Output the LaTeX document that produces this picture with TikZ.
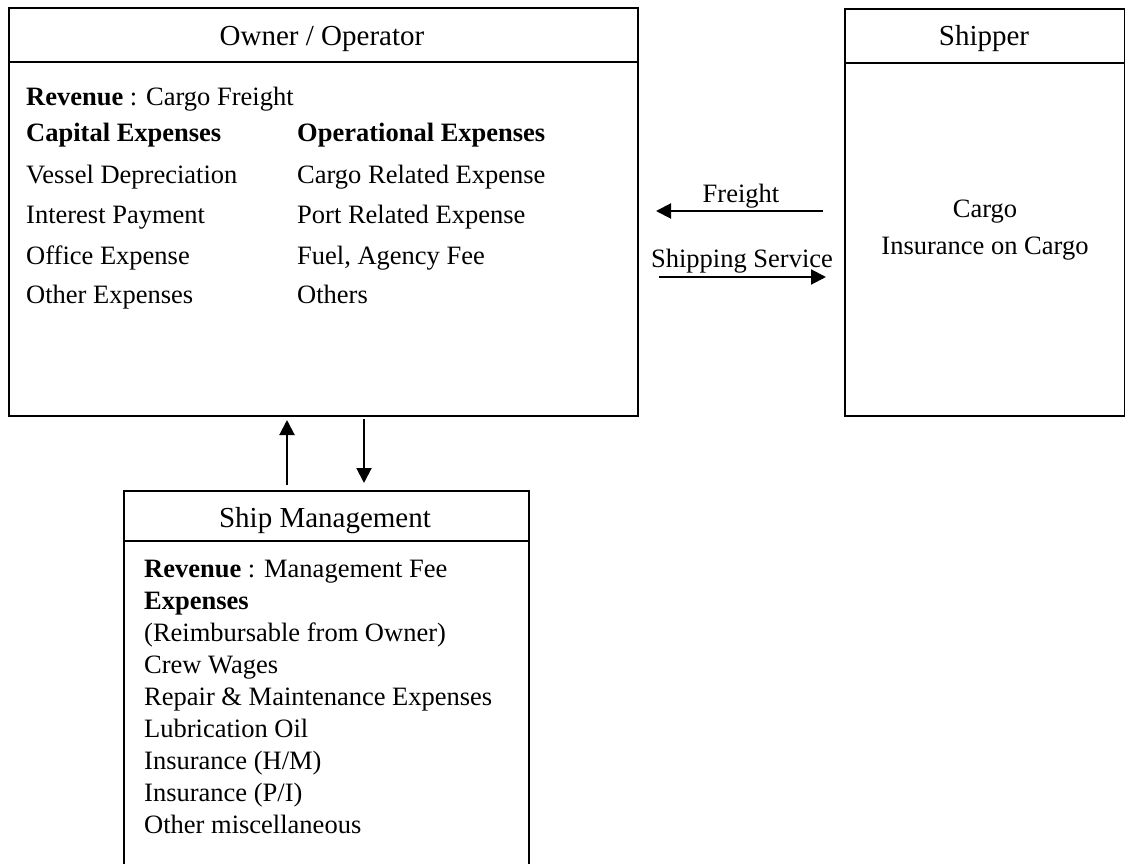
\documentclass[tikz,border=0pt]{standalone}
\usepackage{fontspec}
\setmainfont{Liberation Serif}
\usetikzlibrary{arrows.meta}
\begin{document}
\begin{tikzpicture}[x=1pt,y=-1pt,
  frame/.style={draw, line width=2pt, inner sep=0pt, anchor=north west},
  rule/.style={line width=2.5pt},
  flow/.style={line width=2pt, -{Triangle[length=15pt,width=15pt]}},
  head/.style={font=\fontsize{29}{34}\selectfont, anchor=base, inner sep=0pt},
  txt/.style={font=\fontsize{26.5}{32}\selectfont, anchor=base west, inner sep=0pt},
  ctr/.style={font=\fontsize{26.5}{32}\selectfont, anchor=base, inner sep=0pt}]
\useasboundingbox (0,0) rectangle (1125,864);

% --- Owner / Operator -------------------------------------------------
\node[frame, minimum width=629pt, minimum height=408pt] (owner) at (8,7) {};
\draw[rule] ([yshift=-55pt]owner.north west) -- ([yshift=-55pt]owner.north east);
\node[head] (ownerT) at (322,46) {Owner / Operator};
\node[txt] (oRev) at (26,106) {\textbf{Revenue} : Cargo Freight};
\node[txt] (oCap) at (26,142) {\textbf{Capital Expenses}};
\node[txt] (oOp)  at (297,142) {\textbf{Operational Expenses}};
\node[txt] (oC1) at (26,184) {Vessel Depreciation};
\node[txt] (oC2) at (26,223) {Interest Payment};
\node[txt] (oC3) at (26,264) {Office Expense};
\node[txt] (oC4) at (26,303) {Other Expenses};
\node[txt] (oO1) at (297,184) {Cargo Related Expense};
\node[txt] (oO2) at (297,223) {Port Related Expense};
\node[txt] (oO3) at (297,264) {Fuel, Agency Fee};
\node[txt] (oO4) at (297,303) {Others};

% --- Shipper ----------------------------------------------------------
\node[frame, minimum width=280pt, minimum height=407pt] (shipper) at (844,8) {};
\draw[rule] ([yshift=-55pt]shipper.north west) -- ([yshift=-55pt]shipper.north east);
\node[head] (shipT) at (984,46) {Shipper};
\node[ctr] (sCargo) at (985,218) {Cargo};
\node[ctr] (sIns) at (985,254) {Insurance on Cargo};

% --- Ship Management (open at the foot of the page) --------------------
\node[frame, minimum width=405pt, minimum height=420pt] (mgmt) at (123,490) {};
\draw[rule] ([yshift=-51pt]mgmt.north west) -- ([yshift=-51pt]mgmt.north east);
\node[head] (mgmtT) at (325,527) {Ship Management};
\node[txt] (m1) at (144,577) {\textbf{Revenue} : Management Fee};
\node[txt] (m2) at (144,609) {\textbf{Expenses}};
\node[txt] (m3) at (144,641) {(Reimbursable from Owner)};
\node[txt] (m4) at (144,673) {Crew Wages};
\node[txt] (m5) at (144,705) {Repair \& Maintenance Expenses};
\node[txt] (m6) at (144,737) {Lubrication Oil};
\node[txt] (m7) at (144,769) {Insurance (H/M)};
\node[txt] (m8) at (144,801) {Insurance (P/I)};
\node[txt] (m9) at (144,833) {Other miscellaneous};

% --- flows between owner and shipper -----------------------------------
\coordinate (frS) at (823,211);
\coordinate (frE) at (656,211);
\coordinate (svS) at (659,277);
\coordinate (svE) at (826,277);
\draw[flow] (frS) -- (frE);
\draw[flow] (svS) -- (svE);
\node[ctr] (lblFr) at (741,202) {Freight};
\node[ctr] (lblSv) at (742,267) {Shipping Service};

% --- flows between owner and ship management ---------------------------
\coordinate (upS) at (287,485);
\coordinate (upE) at (287,420);
\coordinate (dnS) at (364,419);
\coordinate (dnE) at (364,483);
\draw[flow] (upS) -- (upE);
\draw[flow] (dnS) -- (dnE);
\end{tikzpicture}
\end{document}
